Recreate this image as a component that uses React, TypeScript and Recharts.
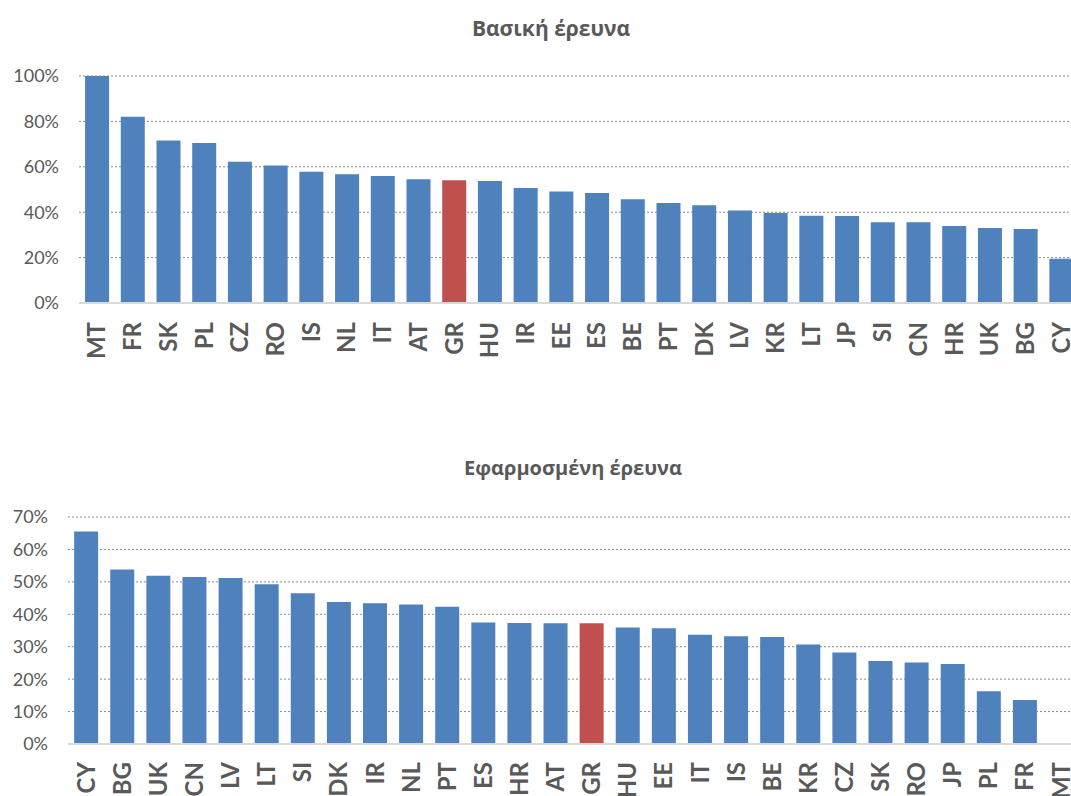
import { Bar, BarChart, CartesianGrid, Cell, XAxis, YAxis } from 'recharts'

const basicTitle = 'Βασική έρευνα'
const basicCategories = ['MT', 'FR', 'SK', 'PL', 'CZ', 'RO', 'IS', 'NL', 'IT', 'AT', 'GR', 'HU', 'IR', 'EE', 'ES', 'BE', 'PT', 'DK', 'LV', 'KR', 'LT', 'JP', 'SI', 'CN', 'HR', 'UK', 'BG', 'CY']
const basicValues = [1.0, 0.821, 0.716, 0.705, 0.622, 0.606, 0.578, 0.567, 0.559, 0.545, 0.541, 0.537, 0.507, 0.491, 0.485, 0.457, 0.44, 0.431, 0.408, 0.397, 0.384, 0.383, 0.356, 0.356, 0.339, 0.33, 0.326, 0.195]
const basicTicks = [0, 0.2, 0.4, 0.6, 0.8, 1.0]

const appliedTitle = 'Εφαρμοσμένη έρευνα'
const appliedCategories = ['CY', 'BG', 'UK', 'CN', 'LV', 'LT', 'SI', 'DK', 'IR', 'NL', 'PT', 'ES', 'HR', 'AT', 'GR', 'HU', 'EE', 'IT', 'IS', 'BE', 'KR', 'CZ', 'SK', 'RO', 'JP', 'PL', 'FR', 'MT']
const appliedValues = [0.655, 0.538, 0.519, 0.515, 0.512, 0.493, 0.465, 0.438, 0.434, 0.43, 0.423, 0.375, 0.373, 0.372, 0.372, 0.359, 0.357, 0.337, 0.332, 0.33, 0.307, 0.282, 0.256, 0.251, 0.247, 0.163, 0.136, 0]
const appliedTicks = [0, 0.1, 0.2, 0.3, 0.4, 0.5, 0.6, 0.7]

const highlight = 'GR'
const BLUE = '#4f81bd'
const RED = '#c0504d'
const GREY = '#595959'

const pct = (v: number) => `${Math.round(v * 100)}%`

function CountryTick({ x, y, payload, gap }: any) {
  return (
    <g transform={`translate(${x},${y + gap})`}>
      <text
        transform="rotate(-90)"
        textAnchor="end"
        dy="0.36em"
        fill={GREY}
        fontFamily="Lato"
        fontWeight="bold"
        fontSize={24}
      >
        {payload.value}
      </text>
    </g>
  )
}

interface PanelProps {
  categories: string[]
  values: number[]
  ticks: number[]
  top: number
  height: number
  plotTop: number
  plotBottom: number
  plotLeft: number
  labelGap: number
}

function Panel({ categories, values, ticks, top, height, plotTop, plotBottom, plotLeft, labelGap }: PanelProps) {
  const data = categories.map((c, i) => ({ name: c, value: values[i] }))
  const width = 1092
  const xAxisHeight = 40
  return (
    <div style={{ position: 'absolute', left: 0, top, width: 1071, height, overflow: 'hidden' }}>
      <BarChart
        width={width}
        height={height}
        data={data}
        barCategoryGap="17%"
        margin={{ top: plotTop, right: width - 1079, left: 0, bottom: height - plotBottom - xAxisHeight }}
      >
        <CartesianGrid vertical={false} stroke="#8a8a8a" strokeDasharray="2 2" />
        <YAxis
          width={plotLeft}
          domain={[ticks[0], ticks[ticks.length - 1]]}
          ticks={ticks}
          tickFormatter={pct}
          axisLine={false}
          tickLine={false}
          tickSize={0}
          tickMargin={20}
          tick={{ fill: GREY, fontFamily: 'Lato', fontSize: 18 }}
        />
        <XAxis
          dataKey="name"
          interval={0}
          height={xAxisHeight}
          tickLine={false}
          tickSize={0}
          tickMargin={0}
          axisLine={{ stroke: '#d9d9d9', strokeWidth: 2 }}
          tick={<CountryTick gap={labelGap} />}
        />
        <Bar dataKey="value" isAnimationActive={false}>
          {data.map((d) => (
            <Cell key={d.name} fill={d.name === highlight ? RED : BLUE} />
          ))}
        </Bar>
      </BarChart>
    </div>
  )
}

export default function App() {
  return (
    <div style={{ position: 'absolute', left: 0, top: 0, width: 1071, height: 796, overflow: 'hidden', background: '#fff' }}>
      <Panel
        categories={basicCategories}
        values={basicValues}
        ticks={basicTicks}
        top={0}
        height={400}
        plotTop={76}
        plotBottom={303}
        plotLeft={79}
        labelGap={19}
      />
      <Panel
        categories={appliedCategories}
        values={appliedValues}
        ticks={appliedTicks}
        top={400}
        height={396}
        plotTop={117}
        plotBottom={344}
        plotLeft={68}
        labelGap={18}
      />
      <svg width={1071} height={796} style={{ position: 'absolute', left: 0, top: 0, pointerEvents: 'none' }}>
        <text x={551} y={36} textAnchor="middle" fill={GREY} fontFamily="Open Sans" fontWeight="bold" fontSize={21}>
          {basicTitle}
        </text>
        <text x={573} y={475} textAnchor="middle" fill={GREY} fontFamily="Open Sans" fontWeight="bold" fontSize={20}>
          {appliedTitle}
        </text>
      </svg>
    </div>
  )
}
